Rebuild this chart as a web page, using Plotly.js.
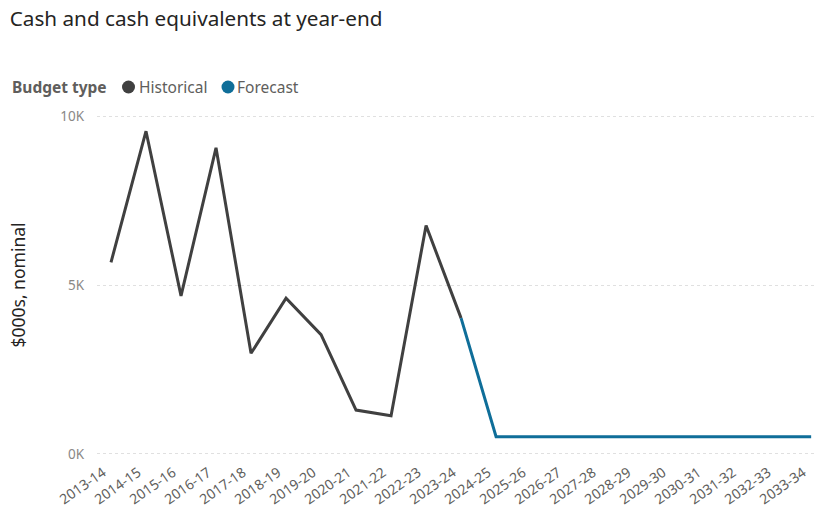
<!DOCTYPE html>
<html>
<head>
<meta charset="utf-8">
<script src="https://cdn.plot.ly/plotly-3.0.1.min.js"></script>
<style>
  html, body { margin: 0; padding: 0; background: #ffffff; }
  #chart { width: 815px; height: 507px; }
</style>
</head>
<body>
<div id="chart"></div>
<script>
// Financial years on the category axis
const years = [
  "2013-14", "2014-15", "2015-16", "2016-17", "2017-18", "2018-19", "2019-20",
  "2020-21", "2021-22", "2022-23", "2023-24", "2024-25", "2025-26", "2026-27",
  "2027-28", "2028-29", "2029-30", "2030-31", "2031-32", "2032-33", "2033-34"
];

// Cash and cash equivalents, $000s nominal
const historical = [
  5670, 9550, 4680, 9060, 2980, 4610, 3530, 1300, 1130, 6760, 4020,
  null, null, null, null, null, null, null, null, null, null
];
const forecast = [
  null, null, null, null, null, null, null, null, null, null, 4020,
  510, 510, 510, 510, 510, 510, 510, 510, 510, 510
];

// Value axis ticks
const yTickVals = [0, 5000, 10000];
const yTickText = ["0K", "5K", "10K"];

// Legend entries
const legendTitle = "Budget type";
const seriesNames = ["Historical", "Forecast"];

const FONT = "Noto Sans, Open Sans, sans-serif";
const HIST_COLOR = "#404040";
const FCST_COLOR = "#0f6e99";
const seriesColors = [HIST_COLOR, FCST_COLOR];

const traces = [
  {
    name: seriesNames[0],
    x: years,
    y: historical,
    type: "scatter",
    mode: "lines",
    line: { color: HIST_COLOR, width: 3 },
    connectgaps: false,
    hoverinfo: "x+y"
  },
  {
    name: seriesNames[1],
    x: years,
    y: forecast,
    type: "scatter",
    mode: "lines",
    line: { color: FCST_COLOR, width: 3 },
    connectgaps: false,
    hoverinfo: "x+y"
  }
];

// Plot box in pixels, used to place the legend row above it
const PLOT_L = 97, PLOT_W = 718, PLOT_T = 115, PLOT_H = 340;
const px2x = (px) => (px - PLOT_L) / PLOT_W;
const py2y = (py) => 1 - (py - PLOT_T) / PLOT_H;
const LEGEND_Y = py2y(87);

const legendFont = { family: FONT, size: 15.5, color: "#605e5c" };
const annotations = [
  {
    text: "<b>" + legendTitle + "</b>",
    xref: "paper", yref: "paper",
    x: px2x(10), y: LEGEND_Y,
    xanchor: "left", yanchor: "middle",
    showarrow: false,
    font: legendFont
  },
  {
    text: seriesNames[0],
    xref: "paper", yref: "paper",
    x: px2x(137), y: LEGEND_Y,
    xanchor: "left", yanchor: "middle",
    showarrow: false,
    font: legendFont
  },
  {
    text: seriesNames[1],
    xref: "paper", yref: "paper",
    x: px2x(235), y: LEGEND_Y,
    xanchor: "left", yanchor: "middle",
    showarrow: false,
    font: legendFont
  }
];

// Round legend swatches, sized in pixels
const legendDotCentres = [128.5, 228];
const shapes = legendDotCentres.map((cx, i) => ({
  type: "circle",
  xref: "paper", yref: "paper",
  xsizemode: "pixel", ysizemode: "pixel",
  xanchor: px2x(cx), yanchor: LEGEND_Y,
  x0: -6.5, x1: 6.5, y0: -6.5, y1: 6.5,
  fillcolor: seriesColors[i],
  line: { width: 0 }
}));

const layout = {
  width: 815,
  height: 507,
  paper_bgcolor: "#ffffff",
  plot_bgcolor: "#ffffff",
  margin: { l: PLOT_L, r: 815 - PLOT_L - PLOT_W, t: PLOT_T, b: 507 - PLOT_T - PLOT_H },
  showlegend: false,
  font: { family: FONT, color: "#605e5c", size: 13 },
  title: {
    text: "Cash and cash equivalents at year-end",
    font: { family: FONT, size: 20.7, color: "#252423" },
    xref: "container",
    yref: "container",
    x: 0.012,
    xanchor: "left",
    y: 1 - 19 / 507,
    yanchor: "middle"
  },
  xaxis: {
    type: "category",
    range: [-0.4, 20.11],
    showgrid: false,
    zeroline: false,
    showline: false,
    ticks: "",
    tickangle: -35,
    ticklabelstandoff: 6,
    ticklabelshift: -8,
    tickfont: { family: FONT, size: 14, color: "#605e5c" },
    fixedrange: true
  },
  yaxis: {
    range: [-30, 10030],
    tickvals: yTickVals,
    ticktext: yTickText,
    showgrid: true,
    gridcolor: "#e0e0e0",
    griddash: "dot",
    gridwidth: 1,
    zeroline: false,
    showline: false,
    ticks: "",
    ticklabelstandoff: 12,
    tickfont: { family: FONT, size: 13.5, color: "#8a8886" },
    title: {
      text: "$000s, nominal",
      font: { family: FONT, size: 17.5, color: "#252423" },
      standoff: 30
    },
    fixedrange: true
  },
  annotations: annotations,
  shapes: shapes
};

Plotly.newPlot("chart", traces, layout, { displayModeBar: false, staticPlot: true });
</script>
</body>
</html>
